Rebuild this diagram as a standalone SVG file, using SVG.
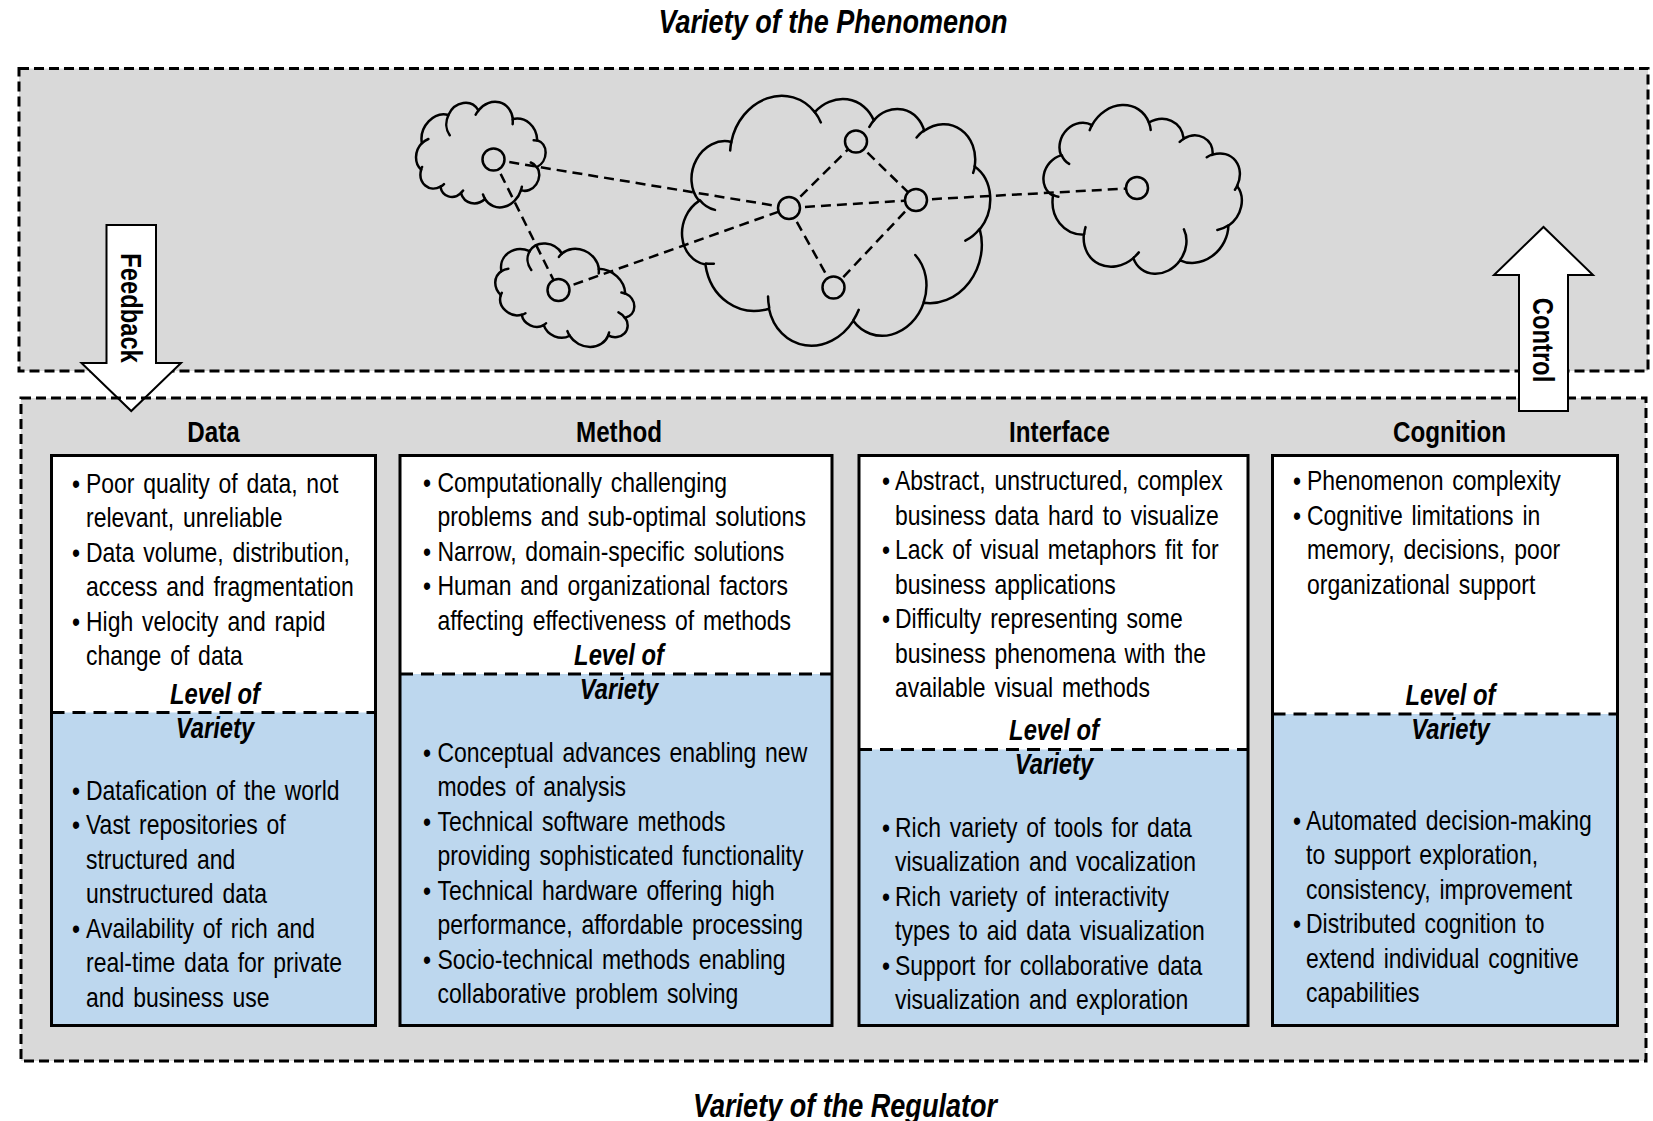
<svg xmlns="http://www.w3.org/2000/svg" xmlns:xlink="http://www.w3.org/1999/xlink" width="1653" height="1121" viewBox="0 0 1653 1121">
  <style>
    text { font-family: 'Liberation Sans', Arial, sans-serif; fill: #000; }
    .title { font-size: 33px; font-weight: bold; font-style: italic; text-anchor: middle; }
    .hdr { font-size: 29.5px; font-weight: bold; text-anchor: middle; }
    .lvl { font-size: 29px; font-weight: bold; font-style: italic; text-anchor: middle; }
    .body { font-size: 28px; word-spacing: 3px; }
    .albl { font-size: 29px; font-weight: bold; text-anchor: middle; }
    .frame { fill: #D9D9D9; }
    .frameline { fill: none; stroke: #000; stroke-width: 3; stroke-dasharray: 10 5; }
    .col { fill: #FFFFFF; }
    .blue { fill: #BDD7EE; }
    .colline { fill: none; stroke: #000; stroke-width: 3; }
    .divider { fill: none; stroke: #000; stroke-width: 3; stroke-dasharray: 13 8; }
    .cloud { fill: none; stroke: #000; stroke-width: 2.5; vector-effect: non-scaling-stroke; stroke-linecap: round; }
    .edge { fill: none; stroke: #000; stroke-width: 2.5; stroke-dasharray: 10 6; }
    .node { fill: #D9D9D9; stroke: #000; stroke-width: 2.5; }
    .arrow { fill: #FFFFFF; stroke: #000; stroke-width: 2; stroke-linejoin: miter; }
  </style>
  <defs>
    <!-- cloud outline on a 100 x 100 grid, with its inner hook arcs -->
    <g id="cloudShape">
      <path class="cloud" d="M9.03 33.26 A15.63 21.27 0 0 1 32.42 12.04 A12.34 16.82 0 0 1 51.98 7.94 A10.10 13.76 0 0 1 69.06 5.74 A11.24 15.27 0 0 1 88.70 12.90 A12.34 16.84 0 0 1 96.81 35.78 A15.68 21.34 0 0 1 86.59 69.91 A13.39 18.21 0 0 1 66.11 85.21 A15.63 21.33 0 0 1 38.15 90.89 A17.87 24.41 0 0 1 13.44 82.10 A10.09 13.70 0 0 1 4.89 59.14 A10.06 13.76 0 0 1 9.03 33.26 Z"/>
      <path class="cloud" d="M10.86 60.59 A10.06 13.76 0 0 1 5.00 58.75 M16.04 80.78 A10.09 13.70 0 0 1 13.47 81.67 M38.14 90.49 A15.63 21.33 0 0 1 36.60 86.45 M66.73 80.44 A15.63 21.33 0 0 1 66.11 84.86 M79.00 53.13 A13.39 18.21 0 0 1 86.53 69.65 M96.75 35.54 A12.34 16.84 0 0 1 93.40 41.74 M88.71 12.56 A11.24 15.27 0 0 1 88.89 15.49 M67.31 9.15 A11.24 15.27 0 0 1 69.03 5.42 M51.25 10.93 A10.10 13.76 0 0 1 52.08 7.71 M32.41 12.02 A15.63 21.27 0 0 1 35.41 15.14 M9.55 36.55 A15.63 21.27 0 0 1 9.03 33.27"/>
    </g>
  </defs>

  <rect width="1653" height="1121" fill="#FFFFFF"/>

  <!-- titles (narrowed sans) -->
  <g transform="scale(0.82 1)">
    <text class="title" x="1015.9" y="33">Variety of the Phenomenon</text>
    <text class="title" x="1030.5" y="1117">Variety of the Regulator</text>
  </g>

  <!-- phenomenon frame -->
  <g id="phenomenon">
    <rect class="frame" x="19" y="68.5" width="1629" height="302.5"/>
    <rect class="frameline" x="19" y="68.5" width="1629" height="302.5"/>
  </g>

  <!-- clouds -->
  <g id="clouds">
    <use xlink:href="#cloudShape" transform="translate(481.5,153) rotate(204) scale(1.25,1.07) translate(-50,-50)"/>
    <use xlink:href="#cloudShape" transform="translate(565.5,293) rotate(210) scale(1.42,0.92) translate(-50,-50)"/>
    <use xlink:href="#cloudShape" transform="translate(835,220.5) rotate(18) scale(3.0,2.55) translate(-50,-50)"/>
    <use xlink:href="#cloudShape" transform="translate(1141,193) rotate(35) scale(1.93,1.64) translate(-50,-50)"/>
  </g>

  <!-- network links -->
  <g id="connectors">
    <line class="edge" x1="493.5" y1="159.5" x2="789" y2="208"/>
    <line class="edge" x1="493.5" y1="159.5" x2="558.5" y2="290"/>
    <line class="edge" x1="558.5" y1="290" x2="789" y2="208"/>
    <line class="edge" x1="789" y1="208" x2="856" y2="141.5"/>
    <line class="edge" x1="789" y1="208" x2="916" y2="200"/>
    <line class="edge" x1="789" y1="208" x2="833.5" y2="287.5"/>
    <line class="edge" x1="856" y1="141.5" x2="916" y2="200"/>
    <line class="edge" x1="916" y1="200" x2="833.5" y2="287.5"/>
    <line class="edge" x1="916" y1="200" x2="1137" y2="188"/>
  </g>

  <!-- network nodes -->
  <g id="nodeA"><circle class="node" cx="493.5" cy="159.5" r="11"/></g>
  <g id="nodeB"><circle class="node" cx="558.5" cy="290" r="11"/></g>
  <g id="nodeC"><circle class="node" cx="789" cy="208" r="11"/></g>
  <g id="nodeD"><circle class="node" cx="856" cy="141.5" r="11"/></g>
  <g id="nodeE"><circle class="node" cx="916" cy="200" r="11"/></g>
  <g id="nodeF"><circle class="node" cx="833.5" cy="287.5" r="11"/></g>
  <g id="nodeG"><circle class="node" cx="1137" cy="188" r="11"/></g>

  <!-- regulator frame (fill first, outline after the feedback arrow) -->
  <rect class="frame" x="21" y="398" width="1625" height="663"/>

  <g id="feedback">
    <polygon class="arrow" points="106.5,225 156,225 156,363 181,363 131.25,411 81.5,363 106.5,363"/>
    <text class="albl" transform="translate(131.25,308) rotate(90) scale(0.82 1)" y="10">Feedback</text>
  </g>

  <g id="regulator">
    <rect class="frameline" x="21" y="398" width="1625" height="663"/>
  </g>

  <g id="control">
    <polygon class="arrow" points="1519,411 1568,411 1568,275 1593,275 1543.5,227 1494,275 1519,275"/>
    <text class="albl" transform="translate(1543.5,340) rotate(90) scale(0.82 1)" y="10">Control</text>
  </g>

  <!-- Data column -->
  <g id="data">
    <rect class="col" x="51.5" y="455.5" width="324" height="570"/>
    <rect class="blue" x="51.5" y="712.5" width="324" height="313"/>
    <line class="divider" x1="51.5" y1="712.5" x2="375.5" y2="712.5"/>
    <rect class="colline" x="51.5" y="455.5" width="324" height="570"/>
    <g transform="scale(0.82 1)">
      <text class="hdr" x="260.4" y="442.5">Data</text>
      <text class="lvl" x="262.2" y="704">Level of</text>
      <text class="lvl" x="262.2" y="738">Variety</text>
      <g class="body">
        <text x="87.8" y="493">•</text><text x="104.9" y="493">Poor quality of data, not</text>
        <text x="104.9" y="527.5">relevant, unreliable</text>
        <text x="87.8" y="562">•</text><text x="104.9" y="562">Data volume, distribution,</text>
        <text x="104.9" y="596.5">access and fragmentation</text>
        <text x="87.8" y="631">•</text><text x="104.9" y="631">High velocity and rapid</text>
        <text x="104.9" y="665.5">change of data</text>

        <text x="87.8" y="800">•</text><text x="104.9" y="800">Datafication of the world</text>
        <text x="87.8" y="834.5">•</text><text x="104.9" y="834.5">Vast repositories of</text>
        <text x="104.9" y="869">structured and</text>
        <text x="104.9" y="903.5">unstructured data</text>
        <text x="87.8" y="938">•</text><text x="104.9" y="938">Availability of rich and</text>
        <text x="104.9" y="972.5">real-time data for private</text>
        <text x="104.9" y="1007">and business use</text>
      </g>
    </g>
  </g>

  <!-- Method column -->
  <g id="method">
    <rect class="col" x="400" y="455.5" width="432" height="570"/>
    <rect class="blue" x="400" y="674" width="432" height="351.5"/>
    <line class="divider" x1="400" y1="674" x2="832" y2="674"/>
    <rect class="colline" x="400" y="455.5" width="432" height="570"/>
    <g transform="scale(0.82 1)">
      <text class="hdr" x="754.9" y="442.5">Method</text>
      <text class="lvl" x="754.9" y="665">Level of</text>
      <text class="lvl" x="754.9" y="699">Variety</text>
      <g class="body">
        <text x="515.9" y="492">•</text><text x="533.5" y="492">Computationally challenging</text>
        <text x="533.5" y="526.5">problems and sub-optimal solutions</text>
        <text x="515.9" y="561">•</text><text x="533.5" y="561">Narrow, domain-specific solutions</text>
        <text x="515.9" y="595.5">•</text><text x="533.5" y="595.5">Human and organizational factors</text>
        <text x="533.5" y="630">affecting effectiveness of methods</text>

        <text x="515.9" y="762">•</text><text x="533.5" y="762">Conceptual advances enabling new</text>
        <text x="533.5" y="796.5">modes of analysis</text>
        <text x="515.9" y="831">•</text><text x="533.5" y="831">Technical software methods</text>
        <text x="533.5" y="865.5">providing sophisticated functionality</text>
        <text x="515.9" y="900">•</text><text x="533.5" y="900">Technical hardware offering high</text>
        <text x="533.5" y="934.5">performance, affordable processing</text>
        <text x="515.9" y="969">•</text><text x="533.5" y="969">Socio-technical methods enabling</text>
        <text x="533.5" y="1003.5">collaborative problem solving</text>
      </g>
    </g>
  </g>

  <!-- Interface column -->
  <g id="interface">
    <rect class="col" x="859" y="455.5" width="389" height="570"/>
    <rect class="blue" x="859" y="749.5" width="389" height="276"/>
    <line class="divider" x1="859" y1="749.5" x2="1248" y2="749.5"/>
    <rect class="colline" x="859" y="455.5" width="389" height="570"/>
    <g transform="scale(0.82 1)">
      <text class="hdr" x="1292.1" y="442.5">Interface</text>
      <text class="lvl" x="1285.4" y="740.5">Level of</text>
      <text class="lvl" x="1285.4" y="774.5">Variety</text>
      <g class="body">
        <text x="1075.6" y="490.5">•</text><text x="1091.5" y="490.5">Abstract, unstructured, complex</text>
        <text x="1091.5" y="525">business data hard to visualize</text>
        <text x="1075.6" y="559.5">•</text><text x="1091.5" y="559.5">Lack of visual metaphors fit for</text>
        <text x="1091.5" y="594">business applications</text>
        <text x="1075.6" y="628.5">•</text><text x="1091.5" y="628.5">Difficulty representing some</text>
        <text x="1091.5" y="663">business phenomena with the</text>
        <text x="1091.5" y="697.5">available visual methods</text>

        <text x="1075.6" y="837">•</text><text x="1091.5" y="837">Rich variety of tools for data</text>
        <text x="1091.5" y="871.5">visualization and vocalization</text>
        <text x="1075.6" y="906">•</text><text x="1091.5" y="906">Rich variety of interactivity</text>
        <text x="1091.5" y="940.5">types to aid data visualization</text>
        <text x="1075.6" y="975">•</text><text x="1091.5" y="975">Support for collaborative data</text>
        <text x="1091.5" y="1009.5">visualization and exploration</text>
      </g>
    </g>
  </g>

  <!-- Cognition column -->
  <g id="cognition">
    <rect class="col" x="1272.5" y="455.5" width="345" height="570"/>
    <rect class="blue" x="1272.5" y="714" width="345" height="311.5"/>
    <line class="divider" x1="1272.5" y1="714" x2="1617.5" y2="714"/>
    <rect class="colline" x="1272.5" y="455.5" width="345" height="570"/>
    <g transform="scale(0.82 1)">
      <text class="hdr" x="1767.7" y="442.5">Cognition</text>
      <text class="lvl" x="1768.9" y="705">Level of</text>
      <text class="lvl" x="1768.9" y="739">Variety</text>
      <g class="body">
        <text x="1576.8" y="490.5">•</text><text x="1593.9" y="490.5">Phenomenon complexity</text>
        <text x="1576.8" y="525">•</text><text x="1593.9" y="525">Cognitive limitations in</text>
        <text x="1593.9" y="559.5">memory, decisions, poor</text>
        <text x="1593.9" y="594">organizational support</text>

        <text x="1576.8" y="830">•</text><text x="1592.7" y="830">Automated decision-making</text>
        <text x="1592.7" y="864.5">to support exploration,</text>
        <text x="1592.7" y="899">consistency, improvement</text>
        <text x="1576.8" y="933.5">•</text><text x="1592.7" y="933.5">Distributed cognition to</text>
        <text x="1592.7" y="968">extend individual cognitive</text>
        <text x="1592.7" y="1002.5">capabilities</text>
      </g>
    </g>
  </g>
</svg>
